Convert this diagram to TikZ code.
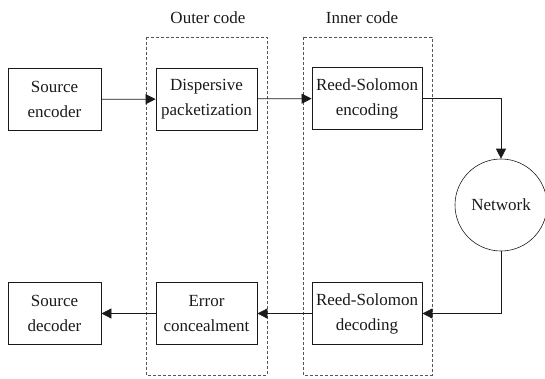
\documentclass[tikz,border=0pt]{standalone}
\usepackage{fontspec}
\setmainfont{Liberation Serif}
\usetikzlibrary{arrows.meta}
\definecolor{diagink}{HTML}{1A1A1A}
\definecolor{groupink}{HTML}{555555}

\begin{document}
\begin{tikzpicture}[
  x=1pt,
  y=-1pt,
  every node/.style={font=\fontsize{17}{25}\selectfont, diagink},
  block/.style={draw=diagink, line width=0.8pt, align=center, inner sep=0pt,
                minimum height=62pt},
  netnode/.style={circle, draw=diagink, line width=0.6pt, inner sep=0pt,
                  minimum size=92pt},
  group/.style={draw=groupink, line width=0.7pt, dash pattern=on 3pt off 2pt},
  flow/.style={diagink, line width=0.8pt, -{Triangle[length=10pt, width=10pt]}}
]
  \useasboundingbox (0,0) rectangle (545,379);

  % ---- coding groups ----
  \draw[group] (146,37) rectangle (267,375);
  \draw[group] (303,37) rectangle (432,375);
  \node (outerlab) at (208,18) {Outer code};
  \node (innerlab) at (362,18) {Inner code};

  % ---- transmitter chain ----
  \node[block, minimum width=93pt]  (srcenc) at (54.5,99.5) {Source\\encoder};
  \node[block, minimum width=101pt] (disp)   at (206.5,99)  {Dispersive\\packetization};
  \node[block, minimum width=110pt] (rsenc)  at (367,98.5)  {Reed-Solomon\\encoding};

  % ---- channel ----
  \node[netnode] (net) at (501,205) {Network};

  % ---- receiver chain ----
  \node[block, minimum width=110pt] (rsdec)  at (367,313.5)  {Reed-Solomon\\decoding};
  \node[block, minimum width=101pt] (conceal) at (206.5,313.5) {Error\\concealment};
  \node[block, minimum width=93pt]  (srcdec) at (54.5,313.5)  {Source\\decoder};

  % ---- connectors ----
  \draw[flow] (srcenc) -- (disp);
  \draw[flow] (disp) -- (rsenc);
  \draw[flow] (rsenc.east) -| (net.north);
  \draw[flow] (net.south) |- (rsdec.east);
  \draw[flow] (rsdec) -- (conceal);
  \draw[flow] (conceal) -- (srcdec);
\end{tikzpicture}
\end{document}
